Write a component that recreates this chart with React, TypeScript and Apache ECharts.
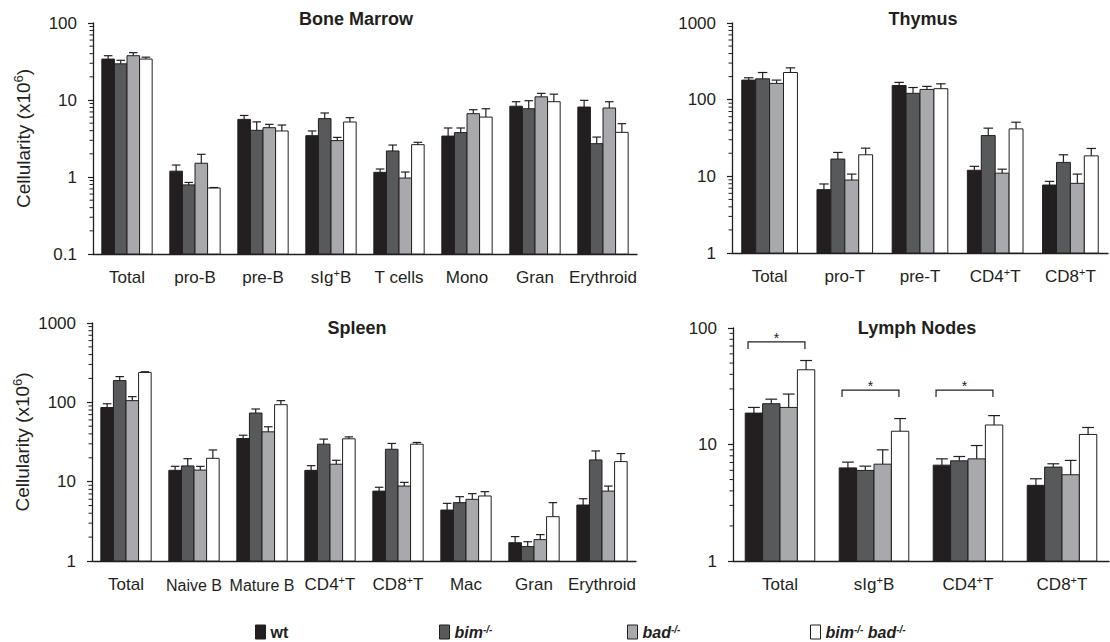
import React, { useEffect, useRef } from "react";
import * as echarts from "echarts";

const seriesNames = ["wt", "bim-/-", "bad-/-", "bim-/- bad-/-"];
const seriesColors = ["#231f20", "#58595b", "#a7a9ac", "#ffffff"];

// Bone Marrow
const bmCategories = ["Total", "pro-B", "pre-B", "sIg+B", "T cells", "Mono", "Gran", "Erythroid"];
const bmWt = [34, 1.19, 5.6, 3.44, 1.15, 3.4, 8.3, 8.1];
const bmWtHi = [37.6, 1.43, 6.3, 3.96, 1.27, 4.33, 9.5, 9.9];
const bmBim = [29.5, 0.79, 4.04, 5.73, 2.18, 3.77, 7.7, 2.71];
const bmBimHi = [32.8, 0.85, 5.2, 6.78, 2.6, 4.33, 9.8, 3.3];
const bmBad = [37.6, 1.51, 4.37, 2.97, 0.97, 6.64, 11.0, 7.87];
const bmBadHi = [41.2, 1.97, 4.83, 3.27, 1.16, 7.48, 12.2, 9.5];
const bmBimBad = [34, 0.72, 3.96, 5.18, 2.63, 6.0, 9.5, 3.8];
const bmBimBadHi = [36, 0.73, 4.73, 5.9, 2.82, 7.7, 11.9, 4.93];

// Thymus
const thCategories = ["Total", "pro-T", "pre-T", "CD4+T", "CD8+T"];
const thWt = [180, 6.7, 153, 12.0, 7.7];
const thWtHi = [193, 7.95, 168, 13.5, 8.6];
const thBim = [187, 16.8, 121, 34, 15.2];
const thBimHi = [226, 20.5, 144, 42.5, 19.1];
const thBad = [163, 8.95, 136, 11.0, 8.1];
const thBadHi = [180, 10.7, 149, 12.4, 10.7];
const thBimBad = [226, 19.1, 139, 41.6, 18.5];
const thBimBadHi = [260, 23.3, 161, 50.8, 23.1];

// Spleen
const spCategories = ["Total", "Naive B", "Mature B", "CD4+T", "CD8+T", "Mac", "Gran", "Erythroid"];
const spWt = [86, 13.9, 35, 13.9, 7.6, 4.39, 1.7, 5.08];
const spWtHi = [96, 15.6, 38.5, 15.9, 8.5, 5.33, 2.03, 6.1];
const spBim = [188, 15.8, 73.3, 29.7, 25.6, 5.44, 1.52, 18.8];
const spBimHi = [211, 19.5, 82.4, 34.4, 30.3, 6.47, 1.75, 24.4];
const spBad = [105, 14.0, 42.5, 16.6, 8.8, 5.99, 1.86, 7.6];
const spBadHi = [118, 15.6, 49.2, 18.6, 9.8, 7.06, 2.15, 8.8];
const spBimBad = [238, 19.7, 93.4, 34.7, 29.7, 6.6, 3.62, 17.9];
const spBimBadHi = [243, 25.1, 105, 36.7, 31.2, 7.48, 5.44, 22.6];

// Lymph Nodes
const lnCategories = ["Total", "sIg+B", "CD4+T", "CD8+T"];
const lnWt = [18.6, 6.3, 6.65, 4.46];
const lnWtHi = [20.8, 7.06, 7.53, 5.08];
const lnBim = [22.4, 5.99, 7.24, 6.4];
const lnBimHi = [24.5, 6.52, 7.89, 6.83];
const lnBad = [20.8, 6.78, 7.53, 5.5];
const lnBadHi = [27.1, 9.0, 9.8, 7.3];
const lnBimBad = [43.8, 13.0, 14.7, 12.2];
const lnBimBadHi = [52.6, 16.7, 17.7, 14.0];

// significance brackets (Lymph Nodes)
const sigCategoryIndex = [0, 1, 2];
const sigLevel = [76, 29.3, 29.3];

const panelTitles = ["Bone Marrow", "Thymus", "Spleen", "Lymph Nodes"];

const FONT = "'Liberation Sans', Arial, Helvetica, sans-serif";
const INK = "#231f20";
const GAP = 0.26;

function supFormat(v: string) {
  const parts = v.split("+");
  const cls = v === "Mature B" || v === "Naive B" ? "s" : "n";
  if (parts.length === 1) return "{" + cls + "|" + v + "}";
  return "{n|" + parts[0] + "}{sup|+}{n|" + parts[1] + "}";
}

const labelRich = {
  n: { fontSize: 17, fontFamily: FONT, color: INK, lineHeight: 19, verticalAlign: "bottom" },
  s: { fontSize: 16, fontFamily: FONT, color: INK, lineHeight: 19, verticalAlign: "bottom" },
  sup: { fontSize: 11, fontFamily: FONT, color: INK, lineHeight: 11, verticalAlign: "top" },
};

export default function App() {
  const ref = useRef<HTMLDivElement>(null);

  useEffect(() => {
    if (!ref.current) return;
    const chart = echarts.init(ref.current, null, { renderer: "svg" });

    const panels = [
      {
        cats: bmCategories, min: 0.1, max: 100, name: true,
        vals: [bmWt, bmBim, bmBad, bmBimBad], his: [bmWtHi, bmBimHi, bmBadHi, bmBimBadHi],
        grid: { left: 93, top: 23, width: 544, height: 231 },
      },
      {
        cats: thCategories, min: 1, max: 1000, name: false,
        vals: [thWt, thBim, thBad, thBimBad], his: [thWtHi, thBimHi, thBadHi, thBimBadHi],
        grid: { left: 732, top: 23, width: 376, height: 230 },
      },
      {
        cats: spCategories, min: 1, max: 1000, name: true,
        vals: [spWt, spBim, spBad, spBimBad], his: [spWtHi, spBimHi, spBadHi, spBimBadHi],
        grid: { left: 92, top: 323, width: 544, height: 238 },
      },
      {
        cats: lnCategories, min: 1, max: 100, name: false,
        vals: [lnWt, lnBim, lnBad, lnBimBad], his: [lnWtHi, lnBimHi, lnBadHi, lnBimBadHi],
        grid: { left: 733, top: 328, width: 376, height: 233 },
      },
    ];

    const grids: any[] = [];
    const xAxes: any[] = [];
    const yAxes: any[] = [];
    const series: any[] = [];

    panels.forEach((p, gi) => {
      grids.push({ ...p.grid, containLabel: false });
      xAxes.push({
        type: "category",
        gridIndex: gi,
        data: p.cats,
        axisLine: { lineStyle: { color: INK, width: 1.3 } },
        axisTick: { length: 5, lineStyle: { color: INK, width: 1.2 } },
        axisLabel: {
          interval: 0,
          margin: 13,
          formatter: (v: string) => supFormat(v),
          rich: labelRich,
        },
      });
      yAxes.push({
        type: "log",
        logBase: 10,
        gridIndex: gi,
        min: p.min,
        max: p.max,
        splitLine: { show: false },
        axisLine: { show: true, lineStyle: { color: INK, width: 1.3 } },
        axisTick: { show: true, length: 5, lineStyle: { color: INK, width: 1.2 } },
        axisLabel: {
          fontSize: 17,
          fontFamily: FONT,
          color: INK,
          margin: 16,
          formatter: (v: number) => String(v),
        },
        name: p.name ? "{n|Cellularity (x10}{sup|6}{n|)}" : "",
        nameLocation: "middle",
        nameRotate: 90,
        nameGap: 60,
        nameTextStyle: {
          rich: {
            n: { fontSize: 19, fontFamily: FONT, color: INK, lineHeight: 21, verticalAlign: "bottom" },
            sup: { fontSize: 13, fontFamily: FONT, color: INK, lineHeight: 13, verticalAlign: "top" },
          },
        },
      });

      const nCat = p.cats.length;
      // bars (drawn from the bottom of the log axis)
      p.vals.forEach((vals, k) => {
        series.push({
          type: "custom",
          name: seriesNames[k],
          xAxisIndex: gi,
          yAxisIndex: gi,
          z: 2,
          silent: true,
          itemStyle: { color: seriesColors[k], borderColor: INK, borderWidth: 1 },
          data: vals.map((v, i) => [i, v]),
          encode: { x: 0, y: 1 },
          renderItem: (params: any, api: any) => {
            const cs = params.coordSys;
            const band = cs.width / nCat;
            const bw = (band * (1 - GAP)) / 4;
            const off = (-band * (1 - GAP)) / 2 + bw * k;
            const p0 = api.coord([api.value(0), api.value(1)]);
            const x = p0[0] + off;
            const bottom = cs.y + cs.height;
            return {
              type: "rect",
              shape: { x: x, y: p0[1], width: bw, height: bottom - p0[1] },
              style: { fill: seriesColors[k], stroke: INK, lineWidth: 1 },
            };
          },
        });
      });
      // error bars (upper)
      p.his.forEach((his, k) => {
        const vals = p.vals[k];
        series.push({
          type: "custom",
          xAxisIndex: gi,
          yAxisIndex: gi,
          z: 5,
          silent: true,
          data: his.map((h, i) => [i, vals[i], h]),
          encode: { x: 0, y: 1 },
          renderItem: (params: any, api: any) => {
            const cs = params.coordSys;
            const band = cs.width / nCat;
            const bw = (band * (1 - GAP)) / 4;
            const off = (-band * (1 - GAP)) / 2 + bw * (k + 0.5);
            const p0 = api.coord([api.value(0), api.value(1)]);
            const p1 = api.coord([api.value(0), api.value(2)]);
            const x = p0[0] + off;
            const cap = bw * 0.34;
            const st = { stroke: INK, lineWidth: 1.2, fill: null };
            return {
              type: "group",
              children: [
                { type: "line", shape: { x1: x, y1: p0[1], x2: x, y2: p1[1] }, style: st },
                { type: "line", shape: { x1: x - cap, y1: p1[1], x2: x + cap, y2: p1[1] }, style: st },
              ],
            };
          },
        });
      });

      // minor ticks of the log axis (2..9 in each decade)
      const minorVals: number[] = [];
      for (let d = p.min; d < p.max * 0.99; d *= 10) {
        for (let m = 2; m <= 9; m++) minorVals.push(+(d * m).toPrecision(3));
      }
      series.push({
        type: "custom",
        xAxisIndex: gi,
        yAxisIndex: gi,
        silent: true,
        z: 6,
        data: minorVals.map((v) => [0, v]),
        encode: { x: 0, y: 1 },
        renderItem: (params: any, api: any) => {
          const cs = params.coordSys;
          const y = api.coord([0, api.value(1)])[1];
          return {
            type: "line",
            shape: { x1: cs.x - 3.5, y1: y, x2: cs.x, y2: y },
            style: { stroke: INK, lineWidth: 1 },
          };
        },
      });
    });

    // significance brackets in Lymph Nodes
    series.push({
      type: "custom",
      xAxisIndex: 3,
      yAxisIndex: 3,
      silent: true,
      z: 6,
      data: sigCategoryIndex.map((c, i) => [c, sigLevel[i]]),
      encode: { x: 0, y: 1 },
      renderItem: (params: any, api: any) => {
        const cs = params.coordSys;
        const band = cs.width / lnCategories.length;
        const c = api.coord([api.value(0), api.value(1)]);
        const xl = c[0] - band * 0.34;
        const xr = c[0] + band * 0.265;
        const y = c[1];
        return {
          type: "group",
          children: [
            {
              type: "polyline",
              shape: { points: [[xl, y + 7], [xl, y], [xr, y], [xr, y + 7]] },
              style: { stroke: INK, lineWidth: 1.2, fill: null },
            },
            {
              type: "text",
              x: (xl + xr) / 2,
              y: y + 3,
              style: { text: "*", fill: INK, font: `14px ${FONT}`, align: "center", verticalAlign: "bottom" },
            },
          ],
        };
      },
    });

    const titlePos = [
      [356, 19],
      [923, 19],
      [357, 328],
      [917, 328],
    ];
    const graphics = panelTitles.map((t, i) => ({
      type: "text",
      x: titlePos[i][0],
      y: titlePos[i][1],
      style: {
        text: t,
        font: `bold 18px ${FONT}`,
        fill: INK,
        align: "center",
        verticalAlign: "middle",
      },
    }));

    const legendLeft = [255, 439, 627, 810];
    const legendFmt: Record<string, string> = {
      wt: "{b|wt}",
      "bim-/-": "{it|bim}{sup|-/-}",
      "bad-/-": "{it|bad}{sup|-/-}",
      "bim-/- bad-/-": "{it|bim}{sup|-/-}{it| bad}{sup|-/-}",
    };
    const legends = seriesNames.map((n, i) => ({
      data: [{ name: n, itemStyle: { color: seriesColors[i], borderColor: INK, borderWidth: 1 } }],
      left: legendLeft[i],
      top: 624,
      padding: 0,
      icon: "rect",
      itemWidth: 10,
      itemHeight: 14,
      selectedMode: false,
      formatter: (name: string) => legendFmt[name],
      textStyle: {
        rich: {
          b: { fontSize: 16, fontWeight: "bold", fontFamily: FONT, color: INK, lineHeight: 16, verticalAlign: "bottom" },
          it: { fontSize: 16, fontWeight: "bold", fontStyle: "italic", fontFamily: FONT, color: INK, lineHeight: 16, verticalAlign: "bottom" },
          sup: { fontSize: 10, fontWeight: "bold", fontStyle: "italic", fontFamily: FONT, color: INK, lineHeight: 8, verticalAlign: "top" },
        },
      },
    }));

    chart.setOption({
      animation: false,
      backgroundColor: "#ffffff",
      textStyle: { fontFamily: FONT },
      grid: grids,
      xAxis: xAxes,
      yAxis: yAxes,
      series,
      legend: legends,
      graphic: graphics,
    });

    return () => chart.dispose();
  }, []);

  return (
    <div
      ref={ref}
      style={{ position: "fixed", left: 0, top: 0, width: 1110, height: 642, background: "#fff" }}
    />
  );
}
